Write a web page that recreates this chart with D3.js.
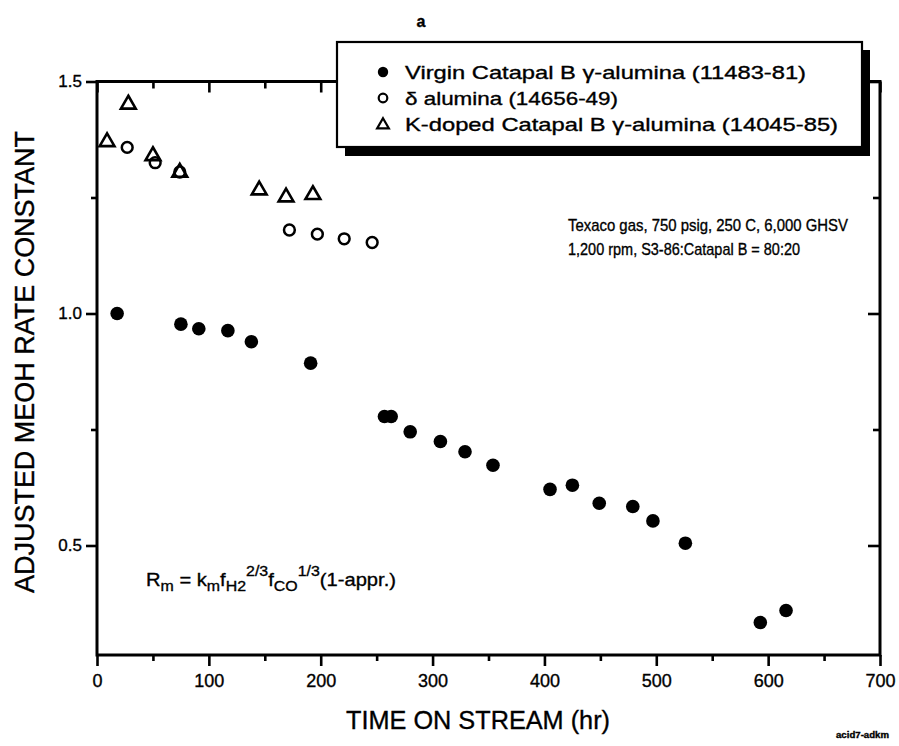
<!DOCTYPE html>
<html><head><meta charset="utf-8">
<script src="https://cdn.jsdelivr.net/npm/d3@7"></script>
<style>body{margin:0;background:#fff}svg{display:block}text{font-family:"Liberation Sans",Arial,Helvetica,sans-serif;fill:#000;stroke:#000;stroke-width:0.35px}</style>
</head><body><svg id="c" width="899" height="746"></svg>
<script>
// ---- data ----
const virginX = [18, 75, 91, 117, 138, 191, 257, 263, 280, 307, 329, 354, 405, 425, 449, 479, 497, 526, 593, 616];
const virginY = [1.0, 0.977, 0.967, 0.963, 0.939, 0.893, 0.778, 0.778, 0.745, 0.724, 0.702, 0.673, 0.621, 0.630, 0.591, 0.584, 0.553, 0.505, 0.334, 0.360];
const deltaX = [27, 52, 74, 172, 197, 221, 246];
const deltaY = [1.358, 1.325, 1.305, 1.180, 1.171, 1.161, 1.153];
const kdopedX = [9, 28, 50, 74, 145, 169, 193];
const kdopedY = [1.372, 1.453, 1.342, 1.306, 1.268, 1.253, 1.258];
const xMajor = [0, 100, 200, 300, 400, 500, 600, 700];
const xMinor = [50, 150, 250, 350, 450, 550, 650];
const yMajor = [0.5, 1.0, 1.5];
const yMinor = [0.75, 1.25];
const legendLabels = ["Virgin Catapal B \u03b3-alumina (11483-81)", "\u03b4 alumina (14656-49)", "K-doped Catapal B \u03b3-alumina (14045-85)"];
const noteLines = ["Texaco gas, 750 psig, 250 C, 6,000 GHSV", "1,200 rpm, S3-86:Catapal B = 80:20"];

const svg = d3.select("#c");
const x = d3.scaleLinear().domain([0, 700]).range([97, 880]);
const y = d3.scaleLinear().domain([0.264, 1.5]).range([655, 81.5]);
const AW = 3;

function styleAxis(g){ g.select(".domain").remove(); g.selectAll("line").attr("stroke","#000").attr("stroke-width",2.6); }

// bottom axis (outside ticks)
svg.append("g").attr("transform",`translate(0,${y.range()[0]})`)
  .call(d3.axisBottom(x).tickValues(xMajor).tickSize(11).tickPadding(6).tickFormat(d3.format("d")))
  .call(styleAxis).call(g=>g.selectAll("text").attr("font-size",18).attr("dy","0.85em"));
svg.append("g").attr("transform",`translate(0,${y.range()[0]})`)
  .call(d3.axisBottom(x).tickValues(xMinor).tickSize(6).tickFormat(""))
  .call(styleAxis);
// top axis (inside ticks)
svg.append("g").attr("transform",`translate(0,${y.range()[1]})`)
  .call(d3.axisBottom(x).tickValues(xMajor).tickSize(11).tickFormat(""))
  .call(styleAxis);
svg.append("g").attr("transform",`translate(0,${y.range()[1]})`)
  .call(d3.axisBottom(x).tickValues(xMinor).tickSize(7).tickFormat(""))
  .call(styleAxis);
// left axis (outside)
svg.append("g").attr("transform",`translate(${x.range()[0]},0)`)
  .call(d3.axisLeft(y).tickValues(yMajor).tickSize(11).tickPadding(4).tickFormat(d3.format(".1f")))
  .call(styleAxis).call(g=>g.selectAll("text").attr("font-size",17));
svg.append("g").attr("transform",`translate(${x.range()[0]},0)`)
  .call(d3.axisLeft(y).tickValues(yMinor).tickSize(6).tickFormat(""))
  .call(styleAxis);
// right axis (inside)
svg.append("g").attr("transform",`translate(${x.range()[1]},0)`)
  .call(d3.axisRight(y).tickValues(yMajor).tickSize(-12).tickFormat(""))
  .call(styleAxis);
svg.append("g").attr("transform",`translate(${x.range()[1]},0)`)
  .call(d3.axisRight(y).tickValues(yMinor).tickSize(-7).tickFormat(""))
  .call(styleAxis);
// frame
svg.append("rect").attr("x",x.range()[0]).attr("y",y.range()[1])
  .attr("width",x.range()[1]-x.range()[0]).attr("height",y.range()[0]-y.range()[1])
  .attr("fill","none").attr("stroke","#000").attr("stroke-width",AW);

// markers
const tri = d3.symbol().type(d3.symbolTriangle).size(95);
svg.append("g").selectAll("circle").data(virginX).join("circle")
  .attr("cx",(d)=>x(d)).attr("cy",(d,i)=>y(virginY[i])).attr("r",6.8).attr("fill","#000");
svg.append("g").selectAll("circle").data(deltaX).join("circle")
  .attr("cx",(d)=>x(d)).attr("cy",(d,i)=>y(deltaY[i])).attr("r",5.4).attr("fill","none").attr("stroke","#000").attr("stroke-width",2.5);
svg.append("g").selectAll("path").data(kdopedX).join("path")
  .attr("transform",(d,i)=>`translate(${x(d)},${y(kdopedY[i])+1})`).attr("d",tri)
  .attr("fill","none").attr("stroke","#000").attr("stroke-width",2.6).attr("stroke-linejoin","miter");

// legend with shadow
const L = {x0:337, y0:42, w:525, h:105, off:8};
svg.append("rect").attr("x",L.x0+L.off).attr("y",L.y0+L.off).attr("width",L.w).attr("height",L.h+1).attr("fill","#000");
svg.append("rect").attr("x",L.x0).attr("y",L.y0).attr("width",L.w).attr("height",L.h).attr("fill","#fff").attr("stroke","#000").attr("stroke-width",2.2);
const legendW = [401, 213, 433];
const lg = svg.append("g");
legendLabels.forEach((t,i)=>{
  const cy = 72 + i*26;
  if(i===0) lg.append("circle").attr("cx",383).attr("cy",cy).attr("r",5.2).attr("fill","#000");
  if(i===1) lg.append("circle").attr("cx",383).attr("cy",cy).attr("r",4.3).attr("fill","none").attr("stroke","#000").attr("stroke-width",2.2);
  if(i===2) lg.append("path").attr("transform",`translate(383,${cy+1})`).attr("d",d3.symbol().type(d3.symbolTriangle).size(60)).attr("fill","none").attr("stroke","#000").attr("stroke-width",2.2);
  lg.append("text").attr("x",405).attr("y",cy+6.5).attr("font-size",18.5).attr("textLength",legendW[i]).attr("lengthAdjust","spacingAndGlyphs").text(t);
});

// notes
const noteW = [280, 232];
noteLines.forEach((t,i)=>{
  svg.append("text").attr("x",568).attr("y",231+i*24).attr("font-size",17).attr("textLength",noteW[i]).attr("lengthAdjust","spacingAndGlyphs").text(t);
});

// formula
const f = svg.append("text").attr("x",146).attr("y",586).attr("font-size",19);
f.append("tspan").text("R");
f.append("tspan").attr("font-size",15).attr("dy",5).text("m");
f.append("tspan").attr("dy",-5).text(" = k");
f.append("tspan").attr("font-size",15).attr("dy",5).text("m");
f.append("tspan").attr("dy",-5).text("f");
f.append("tspan").attr("font-size",15).attr("dy",5).text("H2");
f.append("tspan").attr("font-size",15).attr("dy",-15).text("2/3");
f.append("tspan").attr("dy",10).text("f");
f.append("tspan").attr("font-size",15).attr("dy",5).text("CO");
f.append("tspan").attr("font-size",15).attr("dy",-15).text("1/3");
f.append("tspan").attr("dy",10).text("(1-appr.)");
f.attr("textLength",250).attr("lengthAdjust","spacingAndGlyphs");

// titles
svg.append("text").attr("x",421).attr("y",27).attr("font-size",16).attr("font-weight","bold").attr("text-anchor","middle").text("a");
svg.append("text").attr("transform","translate(34,362) rotate(-90)").attr("text-anchor","middle").attr("font-size",27)
  .attr("textLength",462).attr("lengthAdjust","spacingAndGlyphs").text("ADJUSTED MEOH RATE CONSTANT");
svg.append("text").attr("x",478).attr("y",729).attr("text-anchor","middle").attr("font-size",26)
  .attr("textLength",264).attr("lengthAdjust","spacingAndGlyphs").text("TIME ON STREAM (hr)");
svg.append("text").attr("x",836).attr("y",738).attr("font-size",9).attr("font-weight","bold").attr("font-family","DejaVu Sans Mono")
  .attr("textLength",53).attr("lengthAdjust","spacingAndGlyphs").text("acid7-adkm");
</script></body></html>
